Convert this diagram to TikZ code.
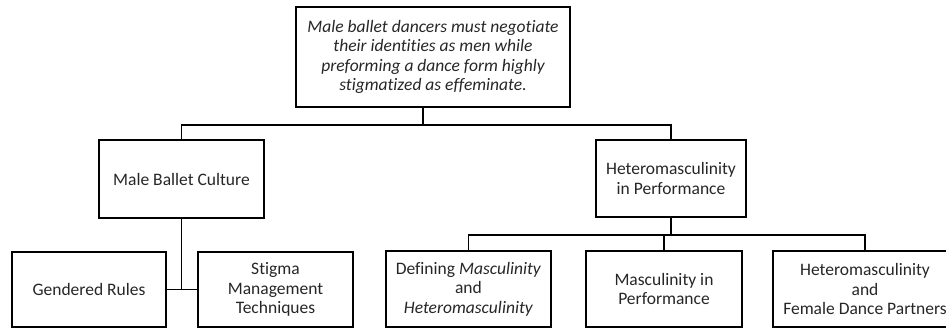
\documentclass[tikz,border=0pt]{standalone}
\usepackage{fontspec}
\setmainfont[Ligatures=NoCommon]{Carlito}
\usetikzlibrary{positioning}

\begin{document}
\begin{tikzpicture}[x=1pt,y=-1pt,box/.style={draw,line width=1.6pt,align=center,inner sep=0pt,text=black!85,font=\fontsize{17.5}{19.5}\selectfont}]
	\useasboundingbox (0,0) rectangle (946,329);

	\node[box,minimum width=274pt,minimum height=100pt,font=\fontsize{17.5}{19.5}\selectfont\itshape](top) at (433,57){Male ballet dancers must negotiate\\their identities as men while\\preforming a dance form highly\\stigmatized as effeminate.};

	\node[box,minimum width=165pt,minimum height=78pt](mbc) at (181.5,179){Male Ballet Culture};
	\node[box,minimum width=150pt,minimum height=77pt](hp) at (671,178.5){Heteromasculinity\\in Performance};

	\node[box,minimum width=154pt,minimum height=75pt](gr) at (89,289.5){Gendered Rules};
	\node[box,minimum width=155pt,minimum height=75pt](smt) at (275.5,289.5){Stigma\\Management\\Techniques};

	\node[box,minimum width=165pt,minimum height=76pt](def) at (468.5,289){Defining \textit{Masculinity}\\and\\\textit{Heteromasculinity}};
	\node[box,minimum width=156pt,minimum height=76pt](mip) at (664,289){Masculinity in\\Performance};
	\node[box,minimum width=184pt,minimum height=76pt](hfd) at (865,289){Heteromasculinity\\and\\Female Dance Partners};

	\begin{scope}[line width=1.6pt]
		\draw ([xshift=-10pt]top.south) -- ++(0,17) coordinate (bus1);
		\draw (mbc.north) |- (bus1) -| (hp.north);
		\draw (mbc.south) -- (mbc.south |- gr.east);
		\draw (gr.east) -- (smt.west);
		\draw (hp.south) -- ++(0,17) coordinate (bus2);
		\draw (def.north) |- (bus2) -| (hfd.north);
		\draw (mip.north) -- (mip.north |- bus2);
	\end{scope}
\end{tikzpicture}
\end{document}
